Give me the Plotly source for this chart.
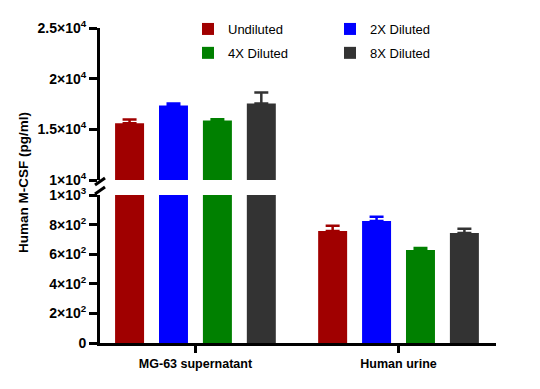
import plotly.graph_objects as go

categories = ["MG-63 supernatant", "Human urine"]
series_names = ["Undiluted", "2X Diluted", "4X Diluted", "8X Diluted"]
series_colors = ["#a00000", "#0000ff", "#008000", "#333333"]
means = [
    [15590, 757],
    [17350, 824],
    [15880, 628],
    [17550, 743],
]
errors = [
    [390, 36],
    [200, 29],
    [120, 14],
    [1080, 29],
]
lower_tickvals = [0, 200, 400, 600, 800, 1000]
lower_ticktext = ["0", "2×10<sup>2</sup>", "4×10<sup>2</sup>", "6×10<sup>2</sup>",
                  "8×10<sup>2</sup>", "1×10<sup>3</sup>"]
upper_tickvals = [10000, 15000, 20000, 25000]
upper_ticktext = ["1×10<sup>4</sup>", "1.5×10<sup>4</sup>", "2×10<sup>4</sup>", "2.5×10<sup>4</sup>"]

W, H = 540, 389
OFF = 8  # page body margin: screen = figure + OFF
# plot area in screen pixels
SX0, SX1, SY0, SY1 = 100, 496, 28, 343
L, R = SX0 - OFF, W - (SX1 - OFF)
T, B = SY0 - OFF, H - (SY1 - OFF)
pw, ph = W - L - R, H - T - B
FAM = "Liberation Sans, Arial, sans-serif"


def py(screen_y):
    return (SY1 - screen_y) / ph


def px(screen_x):
    return (screen_x - SX0) / pw


fig = go.Figure()
for name, color, m, e in zip(series_names, series_colors, means, errors):
    for yax, show in (("y", True), ("y2", False)):
        fig.add_trace(go.Bar(
            x=categories, y=m, name=name, marker_color=color, marker_line_width=0,
            yaxis=yax, showlegend=show, legendgroup=name,
            error_y=dict(type="data", array=e, arrayminus=[0] * len(e), symmetric=False,
                         color=color, thickness=2.5, width=7),
        ))

tickfont_y = dict(family=FAM, size=14, color="black", weight="bold")
axis_common = dict(showgrid=False, zeroline=False, showline=True, linecolor="black",
                   linewidth=3, ticks="outside", ticklen=8, tickwidth=3, tickcolor="black",
                   tickfont=tickfont_y)

fig.update_layout(
    width=W, height=H,
    margin=dict(l=L, r=R, t=T, b=B, autoexpand=False),
    paper_bgcolor="white", plot_bgcolor="white",
    barmode="group", bargap=0.135, bargroupgap=0.34,
    font=dict(family=FAM, color="black"),
    xaxis=dict(type="category", range=[-0.47, 1.48], anchor="y",
               showgrid=False, zeroline=False, showline=True, linecolor="black",
               linewidth=3, ticks="outside", ticklen=7, tickwidth=3, tickcolor="black",
               tickvals=categories,
               ticktext=["<b>MG-63 supernatant</b>", "<b>Human urine</b>"],
               tickfont=dict(family=FAM, size=12.5, color="black")),
    yaxis=dict(domain=[0, py(195)], range=[0, 1000], tickvals=lower_tickvals,
               ticktext=lower_ticktext, anchor="x", **axis_common),
    yaxis2=dict(domain=[py(180), 1], range=[10000, 25000], tickvals=upper_tickvals,
                ticktext=upper_ticktext, anchor="x", **axis_common),
    legend=dict(orientation="h", x=px(188), xanchor="left", y=py(14), yanchor="top",
                entrywidth=97, font=dict(family=FAM, size=13, color="black"),
                bgcolor="rgba(0,0,0,0)", tracegroupgap=4),
    showlegend=True,
)

fig.add_annotation(text="<b>Human M-CSF (pg/ml)</b>", textangle=-90, xref="paper", yref="paper",
                   x=px(23), y=py(183), xanchor="center", yanchor="middle", showarrow=False,
                   font=dict(family=FAM, size=13.5, color="black"))

for y0, y1 in ((185, 178), (194, 187)):
    fig.add_shape(type="line", xref="paper", yref="paper",
                  x0=px(95), y0=py(y0), x1=px(105), y1=py(y1),
                  line=dict(color="black", width=3))

fig.write_html("out.html")
